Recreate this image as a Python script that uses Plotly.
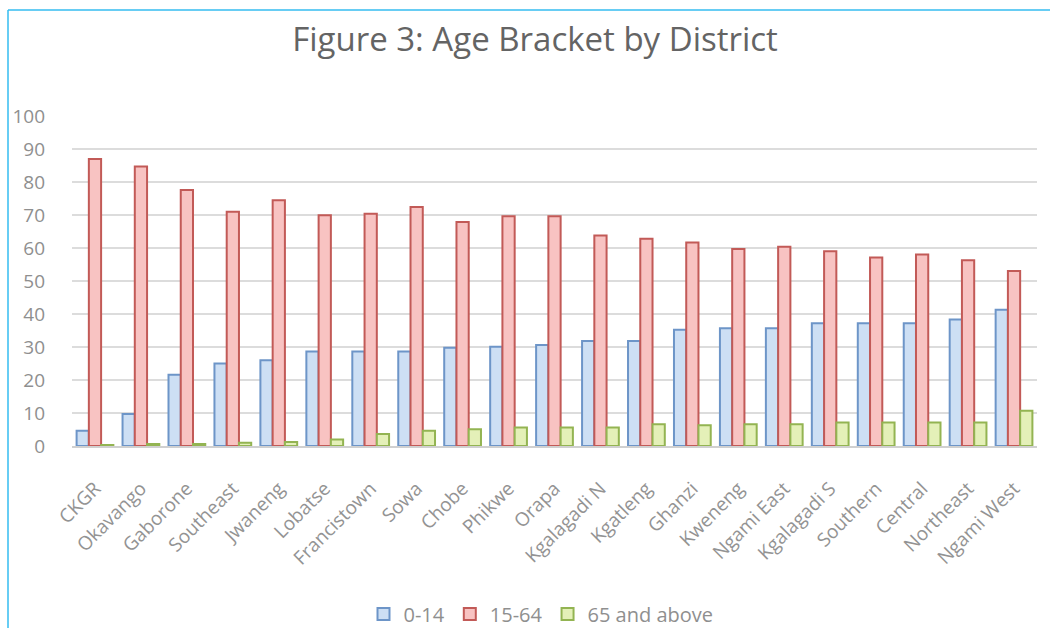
import plotly.graph_objects as go

# District names along the x axis
districts = [
    "CKGR", "Okavango", "Gaborone", "Southeast", "Jwaneng", "Lobatse",
    "Francistown", "Sowa", "Chobe", "Phikwe", "Orapa", "Kgalagadi N",
    "Kgatleng", "Ghanzi", "Kweneng", "Ngami East", "Kgalagadi S",
    "Southern", "Central", "Northeast", "Ngami West",
]

# Share of population (%) in each age bracket
age_0_14 = [4.6, 9.7, 21.6, 25.0, 26.0, 28.6, 28.6, 28.6, 29.8, 30.1, 30.6,
            31.8, 31.8, 35.2, 35.7, 35.7, 37.2, 37.2, 37.2, 38.3, 41.3]
age_15_64 = [87.0, 84.7, 77.6, 71.0, 74.5, 69.9, 70.4, 72.4, 67.9, 69.6, 69.6,
             63.8, 62.8, 61.7, 59.7, 60.4, 59.0, 57.1, 58.0, 56.3, 53.0]
age_65_up = [0.3, 0.6, 0.6, 1.0, 1.2, 2.0, 3.6, 4.6, 5.1, 5.6, 5.6,
             5.6, 6.6, 6.3, 6.6, 6.6, 7.1, 7.1, 7.1, 7.1, 10.7]

y_ticks = [0, 10, 20, 30, 40, 50, 60, 70, 80, 90, 100]

W, H = 1050, 628
M_L, M_R, M_T, M_B = 72, 13, 116, 182

series = [
    ("0-14", age_0_14, "#cddff4", "#6d95c8"),
    ("15-64", age_15_64, "#f8c3c2", "#c25a57"),
    ("65 and above", age_65_up, "#e4f0b8", "#93b452"),
]

fig = go.Figure()
for name, vals, fill, edge in series:
    fig.add_trace(go.Bar(
        name=name, x=districts, y=vals,
        marker=dict(color=fill, line=dict(color=edge, width=2)),
    ))

# Outer frame of the chart area (left and top edges visible)
pw = W - M_L - M_R
ph = H - M_T - M_B
def px_x(p):
    return (p - M_L) / pw
def px_y(p):
    return (H - M_B - p) / ph

frame = dict(color="#35bdf0", width=1.5)
fig.add_shape(type="line", xref="paper", yref="paper",
              x0=px_x(8), x1=px_x(W + 5), y0=px_y(10), y1=px_y(10),
              line=frame, layer="above")
fig.add_shape(type="line", xref="paper", yref="paper",
              x0=px_x(8), x1=px_x(8), y0=px_y(10), y1=px_y(H + 5),
              line=frame, layer="above")

fig.update_layout(
    width=W, height=H,
    margin=dict(l=M_L, r=M_R, t=M_T, b=M_B, autoexpand=False),
    paper_bgcolor="white", plot_bgcolor="white",
    barmode="group", bargap=0.2, bargroupgap=0.0,
    font=dict(family="Open Sans, Liberation Sans, sans-serif", color="#8f8f8f"),
    title=dict(text="Figure 3: Age Bracket by District",
               x=535 / W, xanchor="center", xref="container",
               y=1 - 39 / H, yanchor="middle", yref="container",
               font=dict(size=33, color="#646464")),
    legend=dict(orientation="h", x=px_x(541), xanchor="center",
                y=px_y(614), yanchor="middle",
                font=dict(size=20, color="#8f8f8f"),
                itemwidth=30, tracegroupgap=0, traceorder="normal"),
    showlegend=True,
)

fig.update_xaxes(
    tickangle=-45, tickfont=dict(size=19, color="#939393"),
    showgrid=False, showline=True, linecolor="#d0d0d0", linewidth=2,
    ticks="", automargin=False, ticklabelstandoff=22,
)
fig.update_yaxes(
    range=[0, 100], tickvals=y_ticks, ticktext=[str(v) for v in y_ticks],
    tickfont=dict(size=19, color="#8f8f8f"),
    showgrid=True, gridcolor="#dcdcdc", gridwidth=2,
    zeroline=False, showline=False, ticks="", ticklabelstandoff=26,
    automargin=False,
)

fig.write_html("out.html")
